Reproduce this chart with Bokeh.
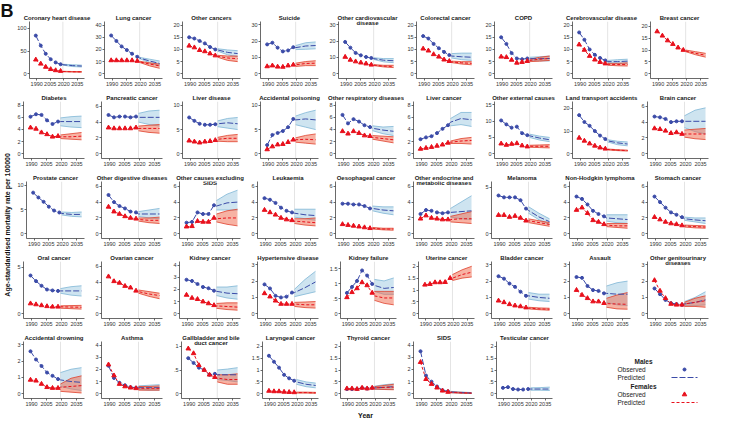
import math
from bokeh.plotting import figure
from bokeh.layouts import row, column
from bokeh.models import Range1d, Span, Label, Spacer
from bokeh.embed import file_html
from bokeh.resources import INLINE

# ---------------- data ----------------
titles = [
    "Coronary heart disease", "Lung cancer", "Other cancers", "Suicide",
    "Other cardiovascular\ndisease", "Colorectal cancer", "COPD", "Cerebrovascular disease", "Breast cancer",
    "Diabetes", "Pancreatic cancer", "Liver disease", "Accidental poisoning", "Other respiratory diseases",
    "Liver cancer", "Other external causes", "Land transport accidents", "Brain cancer",
    "Prostate cancer", "Other digestive diseases", "Other causes excluding\nSIDS", "Leukaemia",
    "Oesophageal cancer", "Other endocrine and\nmetabolic diseases", "Melanoma", "Non-Hodgkin lymphoma",
    "Stomach cancer",
    "Oral cancer", "Ovarian cancer", "Kidney cancer", "Hypertensive disease", "Kidney failure",
    "Uterine cancer", "Bladder cancer", "Assault", "Other genitourinary\ndiseases",
    "Accidental drowning", "Asthma", "Gallbladder and bile\nduct cancer", "Laryngeal cancer",
    "Thyroid cancer", "SIDS", "Testicular cancer",
]

obs_years = [1989, 1994.5, 2000, 2005.5, 2011, 2016.5]
pred_years = [2019, 2029.5, 2040]
split_year = 2019
x_ticks = [1990, 2005, 2020, 2035]

y_top = [115, 43, 21.5, 32, 32, 21.5, 21.5, 21.5, 22,
         8.6, 6.6, 10.8, 10.8, 8.6, 8.6, 16, 23, 6.6,
         10.8, 6.6, 6.6, 6.6, 6.6, 6.6, 5.6, 6.6, 6.6,
         5.6, 6.6, 4.3, 3.2, 1.75, 2.2, 3.2, 3.2, 3.2,
         3.2, 4.3, 1.1, 2.2, 2.2, 4.3, 2.2]

y_ticks = [[0, 50, 100], [0, 10, 20, 30, 40], [0, 5, 10, 15, 20], [0, 10, 20, 30], [0, 10, 20, 30],
           [0, 5, 10, 15, 20], [0, 5, 10, 15, 20], [0, 5, 10, 15, 20], [0, 5, 10, 15, 20],
           [0, 2, 4, 6, 8], [0, 2, 4, 6], [0, 5, 10], [0, 5, 10], [0, 2, 4, 6, 8],
           [0, 2, 4, 6, 8], [0, 5, 10, 15], [0, 10, 20], [0, 2, 4, 6],
           [0, 5, 10], [0, 2, 4, 6], [0, 2, 4, 6], [0, 2, 4, 6], [0, 2, 4, 6],
           [0, 2, 4, 6], [0, 5], [0, 2, 4, 6], [0, 2, 4, 6],
           [0, 5], [0, 2, 4, 6], [0, 1, 2, 3, 4], [0, 1, 2, 3], [0, 0.5, 1, 1.5],
           [0, 0.5, 1, 1.5, 2], [0, 1, 2, 3], [0, 1, 2, 3], [0, 1, 2, 3],
           [0, 1, 2, 3], [0, 1, 2, 3, 4], [0, 0.5, 1], [0, 0.5, 1, 1.5, 2],
           [0, 0.5, 1, 1.5, 2], [0, 1, 2, 3, 4], [0, 0.5, 1, 1.5, 2]]

# Males: observed rates, predicted (2019, 2029.5, 2040) and 95% interval
m_obs = [
    [84, 62, 44, 32, 25, 21], [31.5, 27, 22.5, 19.5, 16.5, 14], [15, 14.5, 13.5, 12.5, 11, 10],
    [18, 19, 16, 13.7, 14.3, 16.3], [19.5, 16, 12.8, 11.3, 10.3, 9.7], [15.5, 14.5, 12.3, 10.5, 9, 7.7],
    [15, 12.3, 8.5, 6.3, 6, 6.3], [17, 14, 10, 7.8, 6.5, 5.5], None,
    [6.1, 6.5, 6.4, 5.5, 4.9, 5.3], [4.9, 4.6, 4.7, 4.7, 4.6, 4.7], [7.5, 6.8, 6.2, 6.0, 6.0, 6.1],
    [1.8, 3.9, 4.3, 4.7, 5.5, 7.2], [6.4, 5.0, 5.7, 5.3, 4.7, 4.4], [2.4, 2.7, 2.9, 3.4, 4.1, 4.7],
    [10.2, 9, 8, 8.3, 6.3, 5.7], [17, 14, 12.3, 10, 8, 6.5], [4.7, 4.6, 4.4, 4.0, 4.1, 4.1],
    [8.5, 7.5, 6.6, 5.6, 4.8, 4.4], [4.9, 4.0, 3.5, 3.2, 2.8, 2.7], [1.4, 1.5, 2.7, 2.5, 2.5, 3.6],
    [4.5, 4.3, 3.9, 3.3, 2.9, 2.7], [3.8, 3.8, 3.7, 3.7, 3.5, 3.2], [2.5, 3.0, 2.9, 2.7, 2.6, 2.7],
    [4.1, 3.9, 3.9, 3.9, 3.6, 2.7], [4.7, 4.4, 3.7, 2.9, 2.5, 2.2], [4.7, 4.0, 3.3, 2.7, 2.4, 2.1],
    [4.1, 3.5, 3.0, 2.6, 2.5, 2.45], None, [2.8, 2.7, 2.45, 2.2, 2.1, 1.9],
    [1.8, 1.55, 1.1, 1.0, 1.05, 1.3], [0.7, 0.9, 1.1, 1.45, 1.28, 1.0], None,
    [2.3, 2.15, 1.85, 1.65, 1.35, 1.1], [2.25, 2.2, 1.7, 1.45, 1.4, 1.25], [1.55, 1.2, 0.85, 0.65, 0.6, 0.55],
    [2.6, 2.1, 1.7, 1.3, 1.1, 0.9], [2.3, 1.3, 0.9, 0.7, 0.55, 0.5], [0.75, 0.65, 0.55, 0.5, 0.4, 0.42],
    [1.6, 1.35, 1.1, 0.8, 0.65, 0.55], [0.2, 0.2, 0.2, 0.25, 0.22, 0.25], [3.5, 1.5, 1.0, 0.6, 0.3, 0.2],
    [0.25, 0.28, 0.2, 0.18, 0.18, 0.2],
]
m_pred = [
    [20, 18, 17], [13, 10.5, 8.5], [9.8, 8.8, 8.3], [16, 17, 17.3], [9.3, 8.3, 8], [7.3, 7, 6.8],
    [6.2, 6.2, 6.3], [5, 5, 5.2], None,
    [5.3, 5.3, 5.3], [4.6, 4.6, 4.6], [6.2, 6.4, 6.2], [7, 7.2, 7], [4.2, 3.9, 3.7], [5.2, 5.8, 5.6],
    [5.5, 4.8, 4.3], [5.7, 4.8, 4.3], [4.1, 4.1, 4.1],
    [4.2, 4.0, 4.0], [2.5, 2.5, 2.5], [3.5, 3.9, 4.0], [2.6, 2.4, 2.3], [3.2, 3.0, 2.9], [2.7, 2.8, 2.9],
    [2.5, 1.8, 1.3], [2.0, 1.9, 1.8], [1.9, 1.75, 1.65],
    [2.45, 2.45, 2.45], None, [1.85, 1.7, 1.65], [1.3, 1.6, 1.95], [0.95, 0.85, 0.88], None,
    [1.1, 1.0, 0.95], [1.25, 1.2, 1.2], [0.6, 0.7, 0.85],
    [0.85, 0.75, 0.7], [0.5, 0.5, 0.5], [0.4, 0.4, 0.4], [0.5, 0.4, 0.35], [0.25, 0.27, 0.3],
    [0.15, 0.1, 0.06], [0.2, 0.2, 0.2],
]
m_lo = [
    [19, 16, 15], [12.5, 9, 6.5], [9.3, 7.8, 7], [14.8, 15, 15.3], [8.8, 7.3, 6.8], [6.5, 5.8, 5.5],
    [5.5, 5.3, 5.3], [4.5, 4.3, 4.3], None,
    [4.6, 4.4, 4.3], [4.0, 3.7, 3.5], [5.6, 5.3, 5], [6, 5.5, 5], [3.8, 3.3, 3.0], [4.6, 4.8, 4.5],
    [5, 4.2, 3.7], [5.2, 4, 3.5], [3.3, 2.8, 2.5],
    [3.9, 3.6, 3.5], [2.2, 2.0, 1.9], [3.0, 3.0, 3.0], [2.1, 1.9, 1.7], [2.9, 2.6, 2.4], [2.1, 1.9, 1.8],
    [2.2, 1.5, 1.0], [1.6, 1.4, 1.3], [1.7, 1.5, 1.3],
    [2.2, 2.0, 1.9], None, [1.5, 1.3, 1.2], [1.05, 1.2, 1.35], [0.75, 0.65, 0.65], None,
    [0.9, 0.8, 0.75], [0.7, 0.55, 0.5], [0.5, 0.5, 0.55],
    [0.45, 0.3, 0.2], [0.35, 0.3, 0.3], [0.3, 0.28, 0.25], [0.4, 0.3, 0.25], [0.18, 0.18, 0.18],
    [0.1, 0.05, 0.03], [0.15, 0.15, 0.14],
]
m_hi = [
    [21, 20, 19], [13.5, 12, 10.5], [10.3, 9.8, 9.5], [17.3, 19, 19.5], [9.8, 9.3, 9.3], [8.3, 8.5, 8.5],
    [6.8, 7, 7.3], [5.5, 5.8, 6], None,
    [5.9, 6.1, 6.2], [5.1, 5.4, 5.5], [6.8, 7.3, 7.5], [7.8, 8.5, 9], [4.6, 4.4, 4.5], [5.8, 6.8, 6.8],
    [6, 5.4, 5], [6.2, 5.5, 5.2], [4.8, 5.5, 5.8],
    [4.5, 4.4, 4.5], [2.8, 3.0, 3.2], [4.2, 5.0, 5.5], [3.1, 3.1, 3.1], [3.5, 3.4, 3.4], [3.2, 4.0, 4.8],
    [2.9, 2.2, 1.6], [2.4, 2.4, 2.4], [2.1, 2.0, 2.0],
    [2.7, 2.9, 3.0], None, [2.2, 2.2, 2.3], [1.5, 2.1, 2.6], [1.15, 1.1, 1.2], None,
    [1.3, 1.2, 1.2], [1.7, 1.9, 2.0], [0.75, 1.0, 1.35],
    [1.3, 1.5, 1.6], [0.65, 0.7, 0.75], [0.5, 0.52, 0.55], [0.6, 0.5, 0.45], [0.32, 0.38, 0.42],
    [0.2, 0.15, 0.1], [0.25, 0.26, 0.28],
]

# Females
f_obs = [
    [31, 22, 15, 10, 7.5, 6], [11, 11, 11, 11, 11, 10.5], [11.5, 10.8, 9.7, 9.2, 8.3, 7.5],
    [4.5, 5, 4.3, 4.2, 5, 5.5], [10.3, 8.5, 7.5, 6.8, 6.2, 5.5], [10.3, 9.5, 8, 7, 5.8, 5.2],
    [7, 6.8, 5.7, 4.5, 4.8, 5.2], [12, 9.8, 7.3, 5.8, 4.8, 4.2], [17.8, 16, 14, 12.5, 11, 10],
    [4.3, 4.1, 3.5, 3.2, 2.8, 2.9], [3.3, 3.2, 3.2, 3.2, 3.2, 3.3], [2.7, 2.5, 2.3, 2.5, 2.6, 2.8],
    [0.9, 1.5, 1.9, 2.0, 2.4, 2.9], [3.7, 3.3, 3.7, 3.4, 3.0, 2.9], [0.8, 0.95, 1.1, 1.3, 1.5, 1.8],
    [3.1, 2.7, 3.0, 3.2, 2.5, 2.2], [7, 5.7, 4.5, 3.5, 2.7, 2.2], [3.2, 3.1, 2.9, 2.6, 2.7, 2.5],
    None, [3.4, 2.8, 2.5, 2.2, 2.0, 1.9], [0.9, 0.95, 1.6, 1.5, 1.5, 2.0],
    [3.0, 2.7, 2.4, 2.0, 1.8, 1.7], [1.2, 1.1, 1.0, 0.9, 0.8, 0.7], [1.9, 2.3, 2.0, 1.9, 1.8, 1.8],
    [2.0, 2.0, 1.8, 1.9, 1.7, 1.4], [3.0, 3.3, 2.6, 1.7, 1.5, 1.2], [2.1, 1.8, 1.5, 1.3, 1.2, 1.05],
    [1.1, 1.0, 0.9, 0.8, 0.75, 0.75], [4.7, 4.1, 3.9, 3.5, 3.3, 2.9], [1.55, 1.3, 1.2, 1.0, 0.85, 0.7],
    [1.25, 1.05, 0.8, 0.6, 0.6, 0.6], [0.55, 0.72, 0.85, 1.05, 0.95, 0.7], [1.22, 1.25, 1.32, 1.32, 1.33, 1.5],
    [0.8, 0.7, 0.58, 0.5, 0.45, 0.38], [1.45, 1.15, 0.95, 0.75, 0.75, 0.65], [2.05, 1.4, 0.95, 0.6, 0.55, 0.55],
    [0.85, 0.8, 0.6, 0.4, 0.35, 0.35], [2.4, 1.5, 0.8, 0.6, 0.5, 0.45], [0.95, 0.85, 0.6, 0.5, 0.4, 0.35],
    [0.12, 0.1, 0.1, 0.08, 0.07, 0.06], [0.22, 0.22, 0.2, 0.25, 0.22, 0.25], [2.6, 1.2, 0.8, 0.5, 0.25, 0.15],
    None,
]
f_pred = [
    [5, 4.5, 4.3], [9.8, 8, 6.5], [7.2, 6.5, 6.2], [5.5, 6.3, 6.5], [5.3, 4.7, 4.5], [4.9, 4.5, 4.3],
    [5.5, 6, 6.3], [3.9, 3.8, 3.8], [9.6, 8.6, 7.8],
    [2.8, 2.8, 2.9], [3.2, 3.2, 3.2], [3.0, 3.2, 3.2], [2.9, 3.0, 2.9], [2.7, 2.5, 2.3], [1.9, 2.1, 2.2],
    [2.3, 2.3, 2.3], [1.9, 1.6, 1.4], [2.5, 2.5, 2.5],
    None, [1.8, 1.7, 1.7], [1.9, 2.0, 2.0], [1.6, 1.5, 1.4], [0.7, 0.6, 0.6], [1.8, 1.9, 1.9],
    [1.4, 1.2, 1.0], [1.1, 1.0, 1.0], [1.0, 0.9, 0.85],
    [0.75, 0.72, 0.7], [2.8, 2.5, 2.3], [0.65, 0.6, 0.55], [0.6, 0.55, 0.55], [0.6, 0.53, 0.53],
    [1.5, 1.65, 1.75], [0.35, 0.3, 0.28], [0.62, 0.6, 0.58], [0.6, 0.7, 0.8],
    [0.4, 0.45, 0.5], [0.45, 0.45, 0.45], [0.33, 0.3, 0.3], [0.05, 0.05, 0.04], [0.25, 0.27, 0.28],
    [0.12, 0.08, 0.05], None,
]
f_lo = [
    [4.5, 3.8, 3.5], [9.3, 6.5, 4.5], [6.8, 5.5, 5], [4.5, 5, 5], [5, 4.2, 3.8], [4.6, 4, 3.7],
    [5, 5.2, 5.5], [3.5, 3.3, 3.2], [9.3, 8, 7],
    [2.5, 2.4, 2.3], [2.9, 2.7, 2.6], [2.6, 2.5, 2.5], [2.4, 2.2, 2.0], [2.4, 2.1, 1.8], [1.7, 1.7, 1.6],
    [2.0, 1.9, 1.8], [1.7, 1.4, 1.2], [2.1, 1.9, 1.8],
    None, [1.6, 1.4, 1.3], [1.5, 1.2, 1.0], [1.3, 1.1, 1.0], [0.6, 0.5, 0.45], [1.5, 1.4, 1.3],
    [1.2, 1.0, 0.8], [0.9, 0.8, 0.7], [0.85, 0.75, 0.7],
    [0.6, 0.55, 0.5], [2.6, 2.2, 1.9], [0.45, 0.35, 0.3], [0.45, 0.38, 0.35], [0.45, 0.35, 0.3],
    [1.4, 1.5, 1.55], [0.3, 0.25, 0.22], [0.4, 0.3, 0.28], [0.45, 0.45, 0.4],
    [0.15, 0.1, 0.05], [0.3, 0.3, 0.3], [0.25, 0.2, 0.2], [0.03, 0.03, 0.02], [0.2, 0.18, 0.17],
    [0.08, 0.05, 0.03], None,
]
f_hi = [
    [5.5, 5, 5], [10.3, 9, 8], [7.6, 7.3, 7.3], [6.5, 7.5, 8], [5.6, 5.2, 5.2], [5.2, 5, 5],
    [6, 6.8, 7.3], [4.3, 4.3, 4.5], [10, 9.3, 8.6],
    [3.1, 3.3, 3.5], [3.5, 3.6, 3.7], [3.4, 3.8, 4.0], [3.3, 3.8, 4.1], [3.0, 2.9, 2.8], [2.1, 2.5, 2.7],
    [2.6, 2.7, 2.8], [2.1, 1.8, 1.6], [3.0, 3.1, 3.2],
    None, [2.0, 2.0, 2.1], [2.5, 2.9, 3.1], [1.9, 1.9, 2.0], [0.8, 0.7, 0.7], [2.2, 2.5, 2.8],
    [1.6, 1.4, 1.2], [1.3, 1.3, 1.3], [1.1, 1.05, 1.0],
    [0.85, 0.88, 0.9], [3.0, 2.8, 2.6], [0.85, 0.9, 0.9], [0.7, 0.72, 0.75], [0.75, 0.75, 0.75],
    [1.65, 1.85, 2.0], [0.4, 0.36, 0.34], [0.95, 1.15, 1.3], [0.7, 0.95, 1.1],
    [0.6, 0.95, 1.1], [0.6, 0.6, 0.65], [0.4, 0.4, 0.42], [0.07, 0.07, 0.06], [0.3, 0.35, 0.4],
    [0.16, 0.12, 0.08], None,
]

# ---------------- style ----------------
FONT = "Liberation Sans"
BLUE = "#3b4ba8"
RED = "#e8101c"
BLUE_FILL = "#9ecae1"
BLUE_EDGE = "#7fb6d6"
RED_FILL = "#ef6548"
RED_EDGE = "#e0402c"
PW, PH = 78, 80
X_START, X_END = 1982, 2043


def fmt_tick(v):
    if float(v).is_integer():
        return str(int(v))
    s = "%g" % v
    return s[1:] if s.startswith("0.") else s


def make_panel(i):
    top = y_top[i]
    p = figure(width=PW, height=PH, output_backend="svg", toolbar_location=None,
               x_range=Range1d(X_START, X_END), y_range=Range1d(-0.09 * top, top),
               min_border_left=8, min_border_right=8, min_border_top=13, min_border_bottom=10)
    p.outline_line_color = None
    p.grid.visible = False
    p.add_layout(Span(location=split_year, dimension="height", line_color="#e4e4e4",
                      line_width=1, level="underlay"))
    series = [
        (m_obs[i], m_pred[i], m_lo[i], m_hi[i], BLUE, BLUE_FILL, BLUE_EDGE, "6 2", "circle", 3),
        (f_obs[i], f_pred[i], f_lo[i], f_hi[i], RED, RED_FILL, RED_EDGE, "3 2", "triangle", 4.5),
    ]
    for obs, pred, lo, hi, col, fill, edge, dash, mk, ms in series:
        if obs is None:
            continue
        p.varea(x=pred_years, y1=lo, y2=hi, fill_color=fill, fill_alpha=0.5)
        p.line(pred_years, lo, line_color=edge, line_width=0.8)
        p.line(pred_years, hi, line_color=edge, line_width=0.8)
    for obs, pred, lo, hi, col, fill, edge, dash, mk, ms in series:
        if obs is None:
            continue
        p.line(obs_years + pred_years, obs + pred, line_color=col, line_width=1, line_dash=dash)
    for obs, pred, lo, hi, col, fill, edge, dash, mk, ms in series:
        if obs is None:
            continue
        p.scatter(obs_years, obs, marker=mk, size=ms, fill_color=col, line_color=col)

    lines = titles[i].split("\n")
    p.title.text = lines[0]
    p.title.align = "center"
    p.title.text_font = FONT
    p.title.text_font_size = "6px"
    p.title.text_font_style = "bold"
    p.title.text_color = "#1a1a1a"
    p.title.standoff = 1
    p.title.offset = 0
    if len(lines) > 1:
        p.add_layout(Label(x=(X_START + X_END) / 2, y=top, text=lines[1], text_align="center",
                           text_baseline="top", text_font=FONT, text_font_size="6px",
                           text_font_style="bold", text_color="#1a1a1a", y_offset=2))

    p.xaxis.ticker = x_ticks
    p.yaxis.ticker = y_ticks[i]
    p.yaxis.major_label_overrides = {v: fmt_tick(v) for v in y_ticks[i]}
    for ax in p.axis:
        ax.axis_line_color = "#444444"
        ax.axis_line_width = 0.8
        ax.major_tick_line_color = "#444444"
        ax.major_tick_line_width = 0.8
        ax.major_tick_out = 2
        ax.major_tick_in = 0
        ax.minor_tick_line_color = None
        ax.major_label_text_font = FONT
        ax.major_label_text_font_size = "5.5px"
        ax.major_label_text_color = "#333333"
        ax.major_label_standoff = 1
    return p


panels = [make_panel(i) for i in range(len(titles))]

# legend panel (text on the left, key glyph on the right, as in the reference)
LW = 2 * PW
lg = figure(frame_width=LW, frame_height=PH, output_backend="svg", toolbar_location=None,
            x_range=Range1d(0, LW), y_range=Range1d(PH, 0),
            x_axis_type=None, y_axis_type=None, min_border=0)
lg.outline_line_color = None


def lg_text(x, y, t, bold=False, align="left"):
    lg.add_layout(Label(x=x, y=y, text=t, text_align=align, text_baseline="middle",
                        text_font=FONT, text_font_size="6.5px",
                        text_font_style="bold" if bold else "normal", text_color="#1a1a1a"))


lg_text(83, 20, "Males", bold=True, align="center")
lg_text(57, 28, "Observed")
lg.scatter([124], [28], marker="circle", size=3, fill_color=BLUE, line_color=BLUE)
lg_text(57, 36, "Predicted")
lg.line([111, 137], [36, 36], line_color=BLUE, line_width=1, line_dash="6 2")
lg_text(83, 45, "Females", bold=True, align="center")
lg_text(57, 53, "Observed")
lg.scatter([124], [53], marker="triangle", size=4.5, fill_color=RED, line_color=RED)
lg_text(57, 61, "Predicted")
lg.line([111, 137], [61, 61], line_color=RED, line_width=1, line_dash="3 2")

rows = [row(*panels[r * 9:(r + 1) * 9]) for r in range(4)]
rows.append(row(*panels[36:43], lg))
grid = column(Spacer(width=9 * PW, height=8), *rows)

GH = 8 + 5 * PH
yl = figure(width=14, height=GH, output_backend="svg", toolbar_location=None,
            x_range=Range1d(0, 1), y_range=Range1d(0, 1), x_axis_type=None, y_axis_type=None,
            min_border=0)
yl.outline_line_color = None
yl.add_layout(Label(x=0, y=1, text="B", text_align="left", text_baseline="top",
                    text_font=FONT, text_font_size="18px", text_font_style="bold", text_color="#111111"))
yl.add_layout(Label(x=0.5, y=0.45, angle=math.pi / 2, text="Age-standardised mortality rate per 100000",
                    text_align="center", text_baseline="middle", text_font=FONT, text_font_size="7px",
                    text_font_style="bold", text_color="#111111"))

TW = 14 + 9 * PW
yr = figure(width=TW, height=14, output_backend="svg", toolbar_location=None,
            x_range=Range1d(0, TW), y_range=Range1d(0, 1), x_axis_type=None, y_axis_type=None,
            min_border=0)
yr.outline_line_color = None
yr.add_layout(Label(x=14 + 9 * PW / 2, y=0.5, text="Year", text_align="center", text_baseline="middle",
                    text_font=FONT, text_font_size="7px", text_font_style="bold", text_color="#111111"))

layout = column(row(yl, grid), yr)

open("out.html", "w").write(file_html(layout, INLINE))
